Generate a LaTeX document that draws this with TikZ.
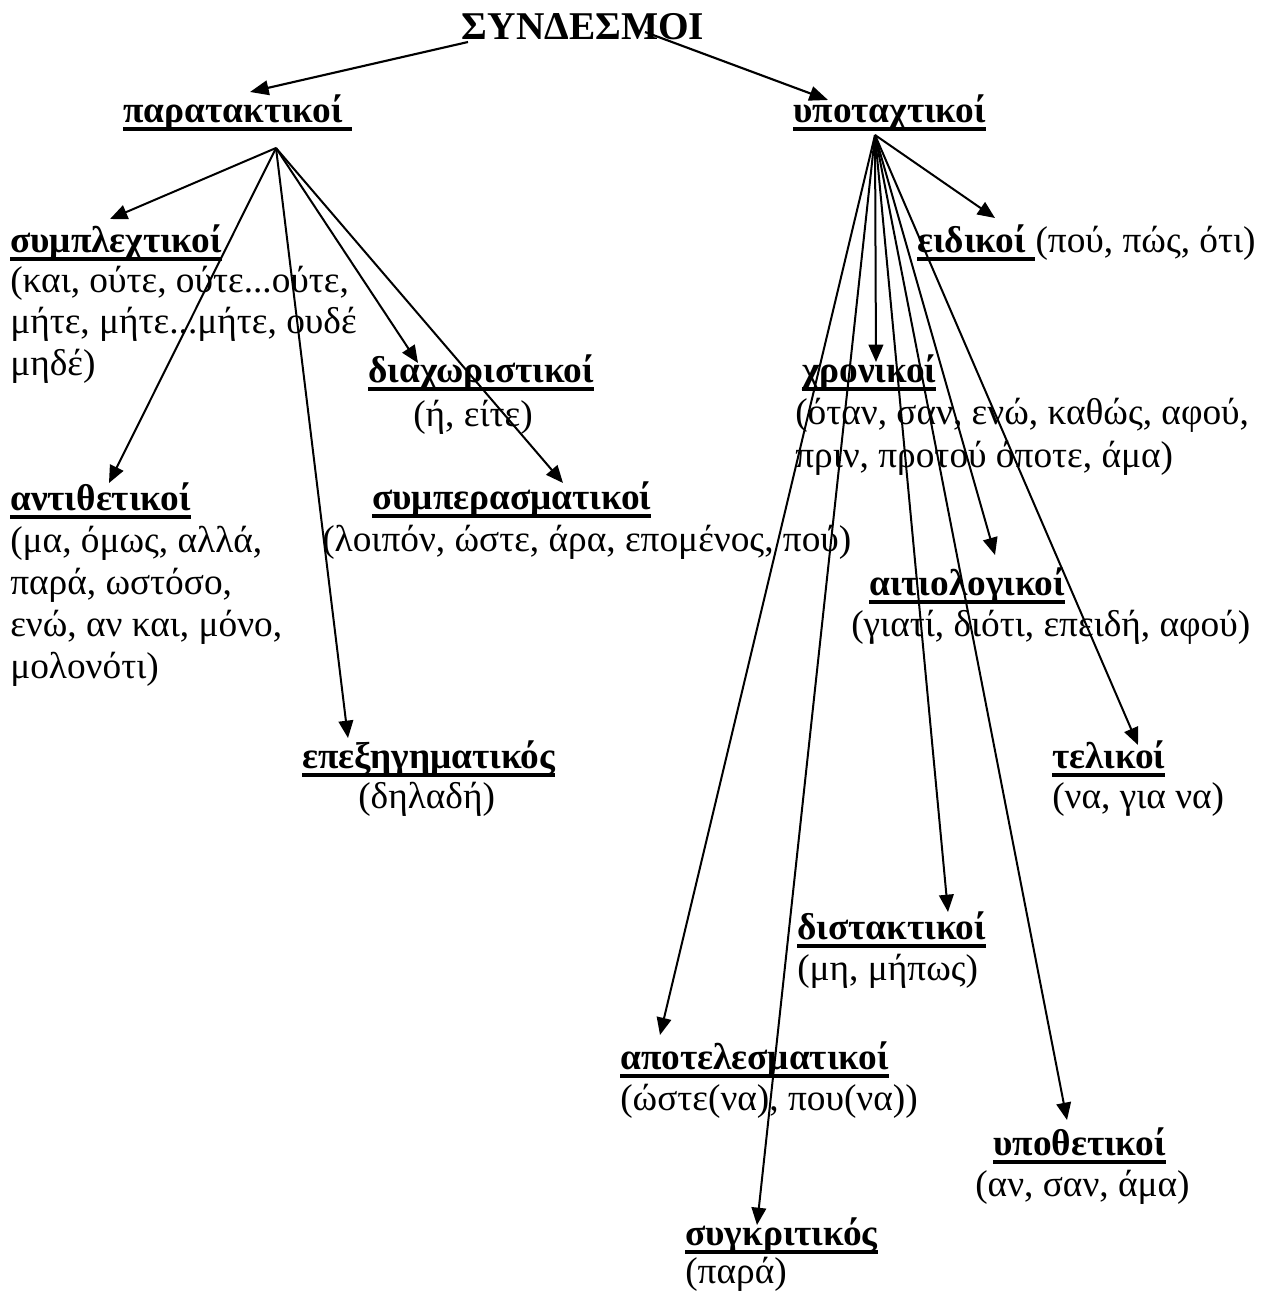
\documentclass[tikz,border=0pt]{standalone}
\usepackage{fontspec}
\setmainfont{Liberation Serif}
\usetikzlibrary{arrows.meta}
\newcommand\ulw[1]{\setbox0\hbox{\bfseries #1}\rlap{\rule[-0.235em]{\wd0}{0.09em}}\box0}
\tikzset{
  txt/.style={inner sep=0, anchor=base west, font=\fontsize{28}{32}\selectfont},
  arr/.style={line width=1.5pt, -{Triangle[length=13pt,width=11pt]}},
  tarr/.style={line width=1.6pt, -{Triangle[length=14pt,width=11pt]}}
}
\begin{document}
\begin{tikzpicture}[x=0.75pt,y=-0.75pt]
\useasboundingbox (0,0) rectangle (1271,1292);
% title and main categories
\node[txt,anchor=base,font=\fontsize{29.5}{33}\selectfont] (title) at (583,39) {\textbf{ΣΥΝΔΕΣΜΟΙ}};
\node[txt] (par) at (123,122) {\ulw{παρατακτικοί\ }};
\node[txt] (hyp) at (793,122) {\ulw{υποταχτικοί}};
% left branch
\node[txt] (sym) at (10,252) {\ulw{συμπλεχτικοί}};
\node[txt] (sym1) at (10,292) {(και, ούτε, ούτε...ούτε,};
\node[txt] (sym2) at (10,333) {μήτε, μήτε...μήτε, ουδέ};
\node[txt] (sym3) at (10,375) {μηδέ)};
\node[txt] (dia) at (368,382) {\ulw{διαχωριστικοί}};
\node[txt] (dia1) at (413,426) {(ή, είτε)};
\node[txt] (ant) at (10,510) {\ulw{αντιθετικοί}};
\node[txt] (ant1) at (10,552) {(μα, όμως, αλλά,};
\node[txt] (ant2) at (10,594) {παρά, ωστόσο,};
\node[txt] (ant3) at (10,636) {ενώ, αν και, μόνο,};
\node[txt] (ant4) at (10,678) {μολονότι)};
\node[txt] (sum) at (372,509) {\ulw{συμπερασματικοί}};
\node[txt] (sum1) at (322,551) {(λοιπόν, ώστε, άρα, επομένος, πού)};
\node[txt] (epe) at (302,768) {\ulw{επεξηγηματικός}};
\node[txt] (epe1) at (358,808) {(δηλαδή)};
% right branch
\node[txt] (eid) at (917,252) {\ulw{ειδικοί\ }};
\node[txt] (eid1) at (eid.base east) {(πού, πώς, ότι)};
\node[txt] (chr) at (802,382) {\ulw{χρονικοί}};
\node[txt] (chr1) at (795,424) {(όταν, σαν, ενώ, καθώς, αφού,};
\node[txt] (chr2) at (795,467) {πριν, προτού όποτε, άμα)};
\node[txt] (ait) at (869,595) {\ulw{αιτιολογικοί}};
\node[txt] (ait1) at (851,636) {(γιατί, διότι, επειδή, αφού)};
\node[txt] (tel) at (1052,768) {\ulw{τελικοί}};
\node[txt] (tel1) at (1052,808) {(να, για να)};
\node[txt] (dis) at (797,939) {\ulw{διστακτικοί}};
\node[txt] (dis1) at (797,980) {(μη, μήπως)};
\node[txt] (apo) at (620,1069) {\ulw{αποτελεσματικοί}};
\node[txt] (apo1) at (620,1110) {(ώστε(να), που(να))};
\node[txt] (ypo) at (993,1155) {\ulw{υποθετικοί}};
\node[txt] (ypo1) at (975,1196) {(αν, σαν, άμα)};
\node[txt] (syg) at (685,1245) {\ulw{συγκριτικός}};
\node[txt] (syg1) at (685,1283) {(παρά)};
% connector ends
\coordinate (tS1) at (468,42);
\coordinate (tS2) at (645,32);
\coordinate (hubL) at (276,148);
\coordinate (hubR) at (875,135);
\coordinate (pTip) at (250,92);
\coordinate (hTip) at (828,100);
\draw[tarr] (tS1) -- (pTip);
\draw[tarr] (tS2) -- (hTip);
\coordinate (aSym) at (110,219);
\coordinate (aAnt) at (109,483);
\coordinate (aEpe) at (348,738);
\coordinate (aDia) at (418,363);
\coordinate (aSum) at (563,483);
\foreach \t in {aSym,aAnt,aEpe,aDia,aSum} \draw[arr] (hubL) -- (\t);
\coordinate (aEid) at (995,218);
\coordinate (aChr) at (876,362);
\coordinate (aAit) at (995,555);
\coordinate (aTel) at (1138,745);
\coordinate (aDis) at (948,912);
\coordinate (aApo) at (660,1035);
\coordinate (aYpo) at (1067,1120);
\coordinate (aSyg) at (757,1225);
\foreach \t in {aEid,aChr,aAit,aTel,aDis,aApo,aYpo,aSyg} \draw[arr] (hubR) -- (\t);
\end{tikzpicture}
\end{document}
